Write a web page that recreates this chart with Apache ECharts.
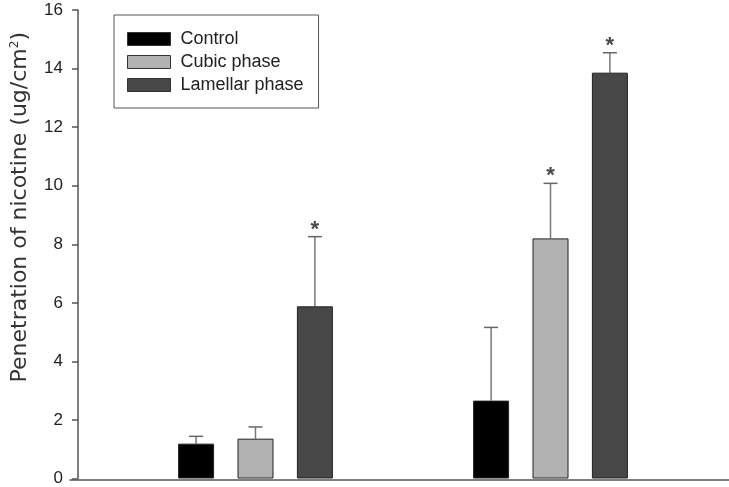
<!DOCTYPE html>
<html>
<head>
<meta charset="utf-8">
<script src="https://cdn.jsdelivr.net/npm/echarts@6/dist/echarts.min.js"></script>
<style>
  html, body { margin: 0; padding: 0; background: #fff; }
  #chart { width: 729px; height: 487px; }
</style>
</head>
<body>
<div id="chart"></div>
<script>
// data
var groups = ['Group 1', 'Group 2'];
var seriesNames = ['Control', 'Cubic phase', 'Lamellar phase'];
var control = [1.19, 2.66];
var cubic = [1.36, 8.2];
var lamellar = [5.88, 13.86];
var controlErr = [0.25, 2.5];
var cubicErr = [0.4, 1.88];
var lamellarErr = [2.38, 0.68];
var controlStar = [false, false];
var cubicStar = [false, true];
var lamellarStar = [true, true];
var yTicks = [0, 2, 4, 6, 8, 10, 12, 14, 16];

var colors = ['#000000', '#b2b2b2', '#474747'];
var barW = 36;
var barGapPct = 0.65;
var font = '"Liberation Sans", Arial, sans-serif';

var chart = echarts.init(document.getElementById('chart'));

var values = [control, cubic, lamellar];
var errs = [controlErr, cubicErr, lamellarErr];
var stars = [controlStar, cubicStar, lamellarStar];

var series = [];
for (var s = 0; s < 3; s++) {
    series.push({
        name: seriesNames[s],
        type: 'bar',
        data: values[s],
        barWidth: barW,
        barGap: (barGapPct * 100) + '%',
        itemStyle: { color: colors[s], borderColor: '#222', borderWidth: 1 },
        silent: true
    });
}

// error bars + asterisks
var errData = [];
for (var s = 0; s < 3; s++) {
    for (var g = 0; g < groups.length; g++) {
        errData.push([g, values[s][g], errs[s][g], s, stars[s][g] ? 1 : 0]);
    }
}
series.push({
    type: 'custom',
    data: errData,
    z: 1,
    silent: true,
    renderItem: function (params, api) {
        var g = api.value(0), v = api.value(1), e = api.value(2), s = api.value(3), st = api.value(4);
        var off = (s - 1) * barW * (1 + barGapPct);
        var p0 = api.coord([g, v]);
        var p1 = api.coord([g, v + e]);
        var x = p0[0] + off;
        var kids = [
            { type: 'line', shape: { x1: x, y1: p0[1], x2: x, y2: p1[1] }, style: { stroke: '#777', lineWidth: 1.5 } },
            { type: 'line', shape: { x1: x - 7, y1: p1[1], x2: x + 7, y2: p1[1] }, style: { stroke: '#666', lineWidth: 1.5 } }
        ];
        if (st) {
            kids.push({
                type: 'text',
                style: { text: '*', x: x, y: p1[1] - 7, align: 'center', verticalAlign: 'middle',
                    font: 'bold 22px ' + font, fill: '#4a4a4a' }
            });
        }
        return { type: 'group', children: kids };
    }
});

var option = {
    animation: false,
    backgroundColor: '#fff',
    legend: {
        data: seriesNames,
        orient: 'vertical',
        left: 114,
        top: 15,
        icon: 'rect',
        itemWidth: 43,
        itemHeight: 13,
        itemGap: 3,
        padding: [14, 15, 13, 13],
        borderColor: '#555',
        borderWidth: 1,
        selectedMode: false,
        itemStyle: { borderColor: '#333', borderWidth: 1 },
        textStyle: { fontFamily: font, fontSize: 18, lineHeight: 20, color: '#222', padding: [0, 0, 0, 5] }
    },
    grid: [
        { left: 108, right: 31, top: 10, bottom: 7 },
        { left: 70, right: 0, top: 10, bottom: 7 }
    ],
    xAxis: [
        {
            type: 'category', gridIndex: 0, data: groups,
            axisLine: { show: false }, axisTick: { show: false }, axisLabel: { show: false }
        },
        {
            type: 'category', gridIndex: 1, data: [],
            axisLine: { show: true, lineStyle: { color: '#555', width: 1.5 } },
            axisTick: { show: false }, axisLabel: { show: false }
        }
    ],
    yAxis: [
        {
            type: 'value', gridIndex: 0, min: yTicks[0], max: yTicks[yTicks.length - 1], interval: 2,
            offset: 30,
            name: 'Penetration of nicotine (ug/cm{sup|2})',
            nameLocation: 'middle',
            nameGap: 47,
            nameTextStyle: {
                fontFamily: '"DejaVu Sans", sans-serif', fontSize: 22, color: '#333',
                padding: [0, 0, 0, 74],
                rich: { sup: { fontSize: 12, verticalAlign: 'top', padding: [0, 0, 10, 0], fontFamily: '"DejaVu Sans", sans-serif', color: '#333' } }
            },
            axisLine: { show: true, lineStyle: { color: '#555', width: 1.5 } },
            axisTick: { show: true, length: 6, lineStyle: { color: '#555', width: 1.5 } },
            axisLabel: { fontFamily: font, fontSize: 17, color: '#222', margin: 15 },
            splitLine: { show: false }
        },
        {
            type: 'value', gridIndex: 1, show: false
        }
    ],
    series: series
};

chart.setOption(option);
</script>
</body>
</html>
